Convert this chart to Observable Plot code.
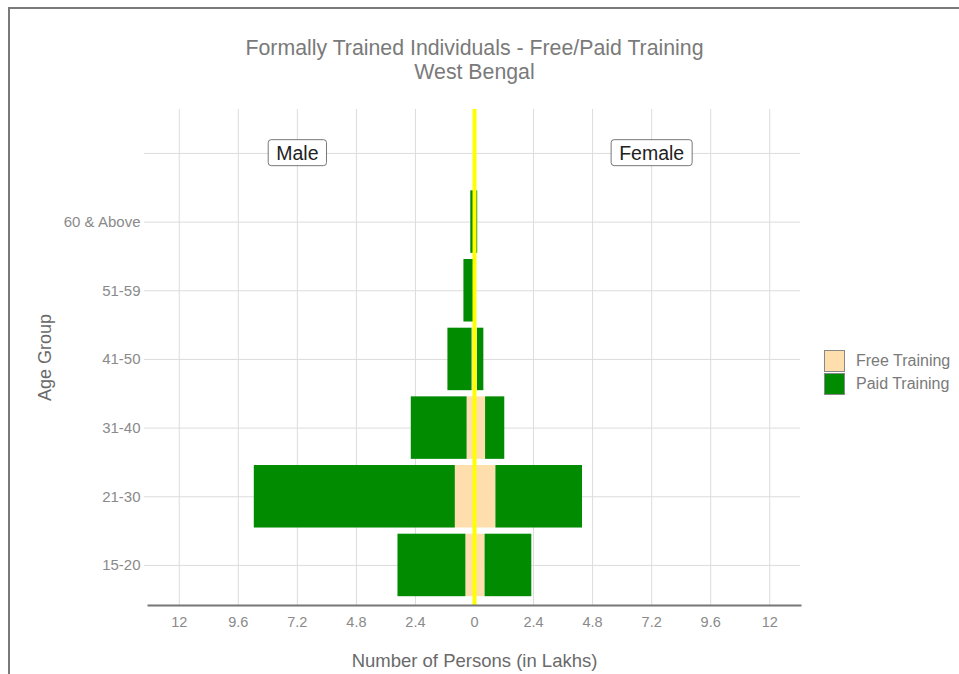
<!DOCTYPE html>
<html>
<head>
<meta charset="utf-8">
<script src="https://cdn.jsdelivr.net/npm/d3@7"></script>
<script src="https://cdn.jsdelivr.net/npm/@observablehq/plot@0.6"></script>
<style>
  html, body { margin: 0; padding: 0; background: #fff; }
  #wrap { position: relative; width: 959px; height: 674px; overflow: hidden; font-family: "Liberation Sans", Arial, sans-serif; }
  #border { position: absolute; left: 8px; top: 7px; right: 0; bottom: 0; border-left: 2.5px solid #7a7a7a; border-top: 2.5px solid #7a7a7a; pointer-events: none; }
  #chart { position: absolute; left: 0; top: 0; }
  #legend { position: absolute; left: 824px; top: 349px; font-size: 16px; color: #7a7a7a; }
  .row { display: flex; align-items: center; height: 23px; }
  .key { width: 21px; height: 22px; border: 1px solid #888; box-sizing: border-box; margin-right: 11px; }
</style>
</head>
<body>
<div id="wrap">
  <div id="chart"></div>
  <div id="legend"></div>
  <div id="border"></div>
</div>
<script>
// ---- data ----
const ageGroups = ["15-20", "21-30", "31-40", "41-50", "51-59", "60 & Above"];
const maleFree    = [0.35, 0.78, 0.30, 0.10, 0.03, 0.03];
const malePaid    = [2.76, 8.17, 2.27, 0.98, 0.40, 0.12];
const femaleFree  = [0.43, 0.87, 0.45, 0.12, 0.01, 0.03];
const femalePaid  = [1.90, 3.52, 0.78, 0.26, 0.05, 0.10];
const trainingTypes = ["Free Training", "Paid Training"];
const typeColors = ["#FFDEAD", "#008B00"];
const xTicks = [-12, -9.6, -7.2, -4.8, -2.4, 0, 2.4, 4.8, 7.2, 9.6, 12];
const sexLabels = ["Male", "Female"];
const sexLabelX = [-7.2, 7.2];
const topLevel = "top";

// build table: free rows first so they stack nearest zero
const rows = [];
ageGroups.forEach((a, i) => {
  rows.push({age: a, type: trainingTypes[0], value: -maleFree[i]});
  rows.push({age: a, type: trainingTypes[0], value: femaleFree[i]});
});
ageGroups.forEach((a, i) => {
  rows.push({age: a, type: trainingTypes[1], value: -malePaid[i]});
  rows.push({age: a, type: trainingTypes[1], value: femalePaid[i]});
});
const labelRows = sexLabels.map((s, i) => ({label: s, x: sexLabelX[i], age: topLevel}));

const yDomain = [topLevel, ...ageGroups.slice().reverse()];
const font = '"Liberation Sans", Arial, sans-serif';

const plot = Plot.plot({
  width: 959,
  height: 674,
  marginLeft: 148,
  marginRight: 159,
  marginTop: 109,
  marginBottom: 69,
  style: {fontFamily: font, background: "transparent", overflow: "visible"},
  x: {domain: [-13.25, 13.25]},
  y: {type: "band", domain: yDomain, paddingInner: 0.09, paddingOuter: 0.1565, align: 0.59, round: false},
  color: {domain: trainingTypes, range: typeColors},
  marks: [
    Plot.gridX({ticks: xTicks, stroke: "#dcdcdc", strokeOpacity: 1, strokeWidth: 1}),
    Plot.gridY({stroke: "#dcdcdc", strokeOpacity: 1, strokeWidth: 1}),
    Plot.barX(rows, Plot.stackX({y: "age", x: "value", fill: "type", order: null})),
    Plot.ruleX([0], {stroke: "#FFFF00", strokeWidth: 4}),
    Plot.frame({anchor: "bottom", stroke: "#777", strokeWidth: 2}),
    Plot.axisX({ticks: xTicks, tickSize: 0, tickPadding: 11, fontSize: 14.5, fill: "#8a8a8a",
      tickFormat: d => String(Math.abs(+d.toFixed(1))), label: null}),
    Plot.axisY({tickSize: 4, stroke: "#dcdcdc", tickPadding: 4, fontSize: 15, fill: "#8a8a8a",
      tickFormat: d => d === topLevel ? "" : d, label: null}),
    Plot.text(labelRows, {x: "x", y: "age", text: "label", fontSize: 19.5, fill: "#222"}),
    Plot.text(["Formally Trained Individuals - Free/Paid Training"], {frameAnchor: "top", dy: -70, fontSize: 21.3, fill: "#7a7a7a"}),
    Plot.text(["West Bengal"], {frameAnchor: "top", dy: -46, fontSize: 21.3, fill: "#7a7a7a"}),
    Plot.text(["Number of Persons (in Lakhs)"], {frameAnchor: "bottom", dy: 61, fontSize: 18.5, fill: "#6a6a6a"}),
    Plot.text(["Age Group"], {frameAnchor: "left", dx: -103, rotate: -90, textAnchor: "middle", fontSize: 18, fill: "#6a6a6a"})
  ]
});
document.getElementById("chart").appendChild(plot);

// rounded label boxes around Male / Female
d3.select(plot).selectAll("text").each(function() {
  const t = this.textContent;
  if (sexLabels.includes(t)) {
    const bb = this.getBBox();
    const r = document.createElementNS("http://www.w3.org/2000/svg", "rect");
    r.setAttribute("x", bb.x - 8);
    r.setAttribute("y", bb.y - 2);
    r.setAttribute("width", bb.width + 16);
    r.setAttribute("height", bb.height + 4);
    r.setAttribute("rx", 3);
    r.setAttribute("fill", "#fff");
    r.setAttribute("stroke", "#555");
    r.setAttribute("stroke-width", 0.8);
    const tr = this.getAttribute("transform");
    if (tr) r.setAttribute("transform", tr);
    this.parentNode.insertBefore(r, this);
  }
});

// legend
const legend = d3.select("#legend");
trainingTypes.forEach((t, i) => {
  const row = legend.append("div").attr("class", "row");
  row.append("div").attr("class", "key").style("background", typeColors[i]);
  row.append("span").text(t);
});
</script>
</body>
</html>
